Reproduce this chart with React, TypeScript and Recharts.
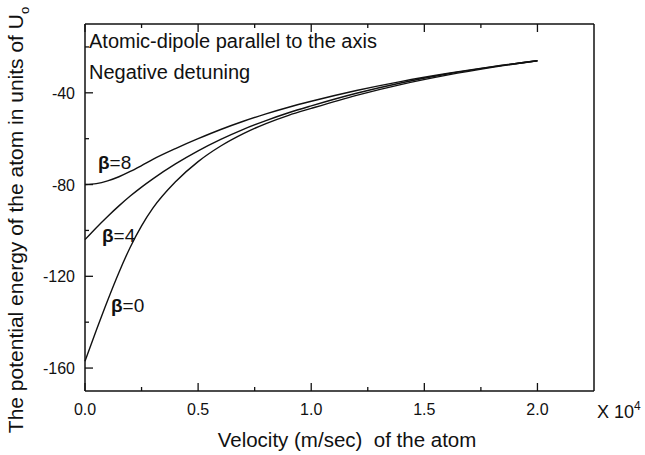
import React from "react";
import { LineChart, Line, XAxis, YAxis, Customized } from "recharts";

const VELOCITY = [0, 0.05, 0.1, 0.15, 0.2, 0.25, 0.3, 0.4, 0.5, 0.6, 0.7, 0.8, 0.9, 1.0, 1.2, 1.4, 1.6, 1.8, 2.0];
const BETA_0 = [-157, -143.5, -130.5, -118.3, -107.3, -98, -90.3, -78.8, -70, -63.2, -57.8, -53.4, -49.8, -46.8, -41.1, -36.3, -32.3, -28.9, -26];
const BETA_4 = [-104, -98.8, -93.9, -89.3, -85, -81.1, -77.5, -71, -65.3, -60.3, -55.9, -52.1, -48.7, -45.7, -40.2, -35.6, -31.8, -28.7, -26];
const BETA_8 = [-80, -79.6, -78.4, -76.6, -74.3, -71.7, -69, -64.3, -60, -56, -52.4, -49.2, -46.3, -43.7, -39, -35, -31.6, -28.6, -26];

const X_TICKS = [0, 0.25, 0.5, 0.75, 1.0, 1.25, 1.5, 1.75, 2.0];
const X_MAJOR = [0, 0.5, 1.0, 1.5, 2.0];
const Y_TICKS = [-160, -140, -120, -100, -80, -60, -40, -20];
const Y_MAJOR = [-160, -120, -80, -40];

const FONT = '"Liberation Sans", Arial, sans-serif';
const INK = "#111";

const data = VELOCITY.map((v, i) => ({ v, b0: BETA_0[i], b4: BETA_4[i], b8: BETA_8[i] }));

function tickLen(major: boolean) {
  return major ? 8 : 4;
}

function BottomTick({ x, y, payload }: any) {
  const major = X_MAJOR.includes(payload.value);
  return (
    <g>
      <line x1={x} x2={x} y1={y} y2={y - tickLen(major)} stroke={INK} strokeWidth={1.3} />
      {major && (
        <text x={x} y={y + 24} textAnchor="middle" fontSize={16} fontFamily={FONT} fill={INK}>
          {payload.value.toFixed(1)}
        </text>
      )}
    </g>
  );
}

function TopTick({ x, y, payload }: any) {
  const major = X_MAJOR.includes(payload.value);
  return <line x1={x} x2={x} y1={y} y2={y + tickLen(major)} stroke={INK} strokeWidth={1.3} />;
}

function LeftTick({ x, y, payload }: any) {
  const major = Y_MAJOR.includes(payload.value);
  return (
    <g>
      <line x1={x} x2={x + tickLen(major)} y1={y} y2={y} stroke={INK} strokeWidth={1.3} />
      {major && (
        <text x={x - 10} y={y + 6} textAnchor="end" fontSize={16} fontFamily={FONT} fill={INK}>
          {payload.value}
        </text>
      )}
    </g>
  );
}

function RightTick({ x, y, payload }: any) {
  const major = Y_MAJOR.includes(payload.value);
  return <line x1={x} x2={x - tickLen(major)} y1={y} y2={y} stroke={INK} strokeWidth={1.3} />;
}

function Annotations() {
  return (
    <g fontFamily={FONT} fill={INK}>
      <text x={23} y={220} fontSize={21} textAnchor="middle" transform="rotate(-90 23 220)">
        The potential energy of the atom in units of U
        <tspan fontSize={13} dy={6}>o</tspan>
      </text>
      <text x={347} y={447} fontSize={20.5} textAnchor="middle" style={{ whiteSpace: "pre" }}>
        {"Velocity (m/sec)  of the atom"}
      </text>
      <text x={597} y={418} fontSize={18}>
        X 10<tspan fontSize={12} dy={-8}>4</tspan>
      </text>
      <text x={89} y={48} fontSize={20}>Atomic-dipole parallel to the axis</text>
      <text x={89} y={79} fontSize={20}>Negative detuning</text>
      <text x={98} y={169} fontSize={19}><tspan fontWeight="bold">β</tspan>=8</text>
      <text x={102} y={242} fontSize={19}><tspan fontWeight="bold">β</tspan>=4</text>
      <text x={111} y={312} fontSize={19}><tspan fontWeight="bold">β</tspan>=0</text>
    </g>
  );
}

export default function App() {
  const axisLine = { stroke: INK, strokeWidth: 1.5 };
  return (
    <div style={{ position: "absolute", left: 0, top: 0, width: 645, height: 455, background: "#fff" }}>
      <LineChart width={645} height={455} data={data} margin={{ top: 0, right: 0, bottom: 0, left: 0 }}>
        <XAxis
          xAxisId="bottom"
          dataKey="v"
          type="number"
          domain={[0, 2.25]}
          ticks={X_TICKS}
          interval={0}
          height={64}
          tickSize={0}
          tickMargin={0}
          tickLine={false}
          axisLine={axisLine}
          tick={<BottomTick />}
        />
        <XAxis
          xAxisId="top"
          orientation="top"
          dataKey="v"
          type="number"
          domain={[0, 2.25]}
          ticks={X_TICKS}
          interval={0}
          height={24}
          tickSize={0}
          tickMargin={0}
          tickLine={false}
          axisLine={axisLine}
          tick={<TopTick />}
        />
        <YAxis
          yAxisId="left"
          type="number"
          domain={[-170, -10]}
          ticks={Y_TICKS}
          interval={0}
          width={85}
          tickSize={0}
          tickMargin={0}
          tickLine={false}
          axisLine={axisLine}
          tick={<LeftTick />}
        />
        <YAxis
          yAxisId="right"
          orientation="right"
          type="number"
          domain={[-170, -10]}
          ticks={Y_TICKS}
          interval={0}
          width={51}
          tickSize={0}
          tickMargin={0}
          tickLine={false}
          axisLine={axisLine}
          tick={<RightTick />}
        />
        <Line xAxisId="bottom" yAxisId="left" type="monotone" dataKey="b0" stroke={INK} strokeWidth={1.4} dot={false} isAnimationActive={false} />
        <Line xAxisId="bottom" yAxisId="left" type="monotone" dataKey="b4" stroke={INK} strokeWidth={1.4} dot={false} isAnimationActive={false} />
        <Line xAxisId="bottom" yAxisId="left" type="monotone" dataKey="b8" stroke={INK} strokeWidth={1.4} dot={false} isAnimationActive={false} />
        <Customized component={<Annotations />} />
      </LineChart>
    </div>
  );
}
